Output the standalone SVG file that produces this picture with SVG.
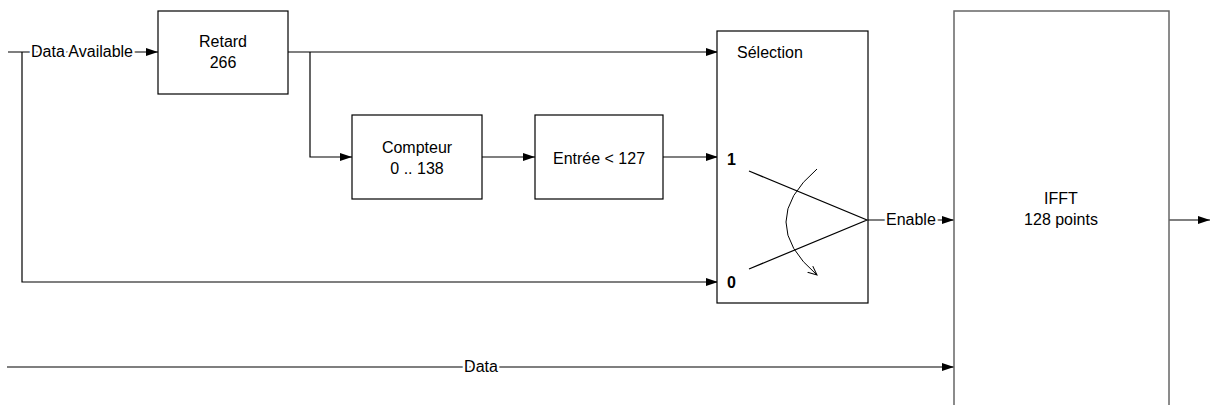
<svg xmlns="http://www.w3.org/2000/svg" width="1210" height="405" viewBox="0 0 1210 405">
<defs>
<style>
.box{fill:#fff;stroke:#000;stroke-width:1.2}
.gbox{fill:#fff;stroke:#666;stroke-width:1.5}
.ln{fill:none;stroke:#000;stroke-width:1.2}
.arr{marker-end:url(#ah)}
text{font-family:"Liberation Sans",Arial,sans-serif;font-size:16px;fill:#000}
.c{text-anchor:middle}
.b{font-weight:bold}
.halo{paint-order:stroke;stroke:#fff;stroke-width:5px;stroke-linejoin:round}
</style>
<marker id="ah" viewBox="0 0 12 8" refX="12" refY="4" markerWidth="12" markerHeight="8" markerUnits="userSpaceOnUse" orient="auto">
<path d="M0,0 L12,4 L0,8 z" fill="#000"/>
</marker>
<marker id="oh" viewBox="0 0 10 10" refX="9" refY="5" markerWidth="10" markerHeight="10" markerUnits="userSpaceOnUse" orient="auto">
<path d="M0,1 L9,5 L0,9" fill="none" stroke="#000" stroke-width="1"/>
</marker>
</defs>
<rect width="1210" height="405" fill="#fff"/>

<g id="connectors">
<path class="ln arr" d="M8,52 H158"/>
<path class="ln arr" d="M22,52 V282 H718"/>
<path class="ln arr" d="M288,52 H718"/>
<path class="ln arr" d="M310,52 V157 H352"/>
<path class="ln arr" d="M482,157 H535"/>
<path class="ln arr" d="M663,157 H718"/>
<path class="ln arr" d="M867,220 H954"/>
<path class="ln arr" d="M1169,220 H1210"/>
<path class="ln arr" d="M7,367 H954"/>
<text class="halo" x="31" y="57">Data Available</text>
<text class="halo" x="886" y="225">Enable</text>
<text class="halo c" x="481" y="372">Data</text>
</g>

<g id="retard">
<rect class="box" x="158" y="11" width="130" height="83"/>
<text class="c" x="223" y="47">Retard</text>
<text class="c" x="223" y="68">266</text>
</g>

<g id="compteur">
<rect class="box" x="352" y="115" width="130" height="84"/>
<text class="c" x="417" y="153">Compteur</text>
<text class="c" x="417" y="174">0 .. 138</text>
</g>

<g id="entree">
<rect class="box" x="535" y="115" width="128" height="84"/>
<text class="c" x="599" y="164">Entrée &lt; 127</text>
</g>

<g id="selection">
<rect class="box" x="717" y="31" width="151" height="272"/>
<text x="737" y="58">Sélection</text>
<text class="b" x="727" y="165">1</text>
<text class="b" x="727" y="288">0</text>
<path class="ln" d="M749,171 L867,220 L749,269" stroke-width="1"/>
<path d="M817,169 Q755,222 817,275" fill="none" stroke="#000" stroke-width="1" marker-end="url(#oh)"/>
</g>

<g id="ifft">
<rect class="gbox" x="954" y="11" width="215" height="400"/>
<text class="c" x="1061" y="204">IFFT</text>
<text class="c" x="1061" y="225">128 points</text>
</g>
</svg>
